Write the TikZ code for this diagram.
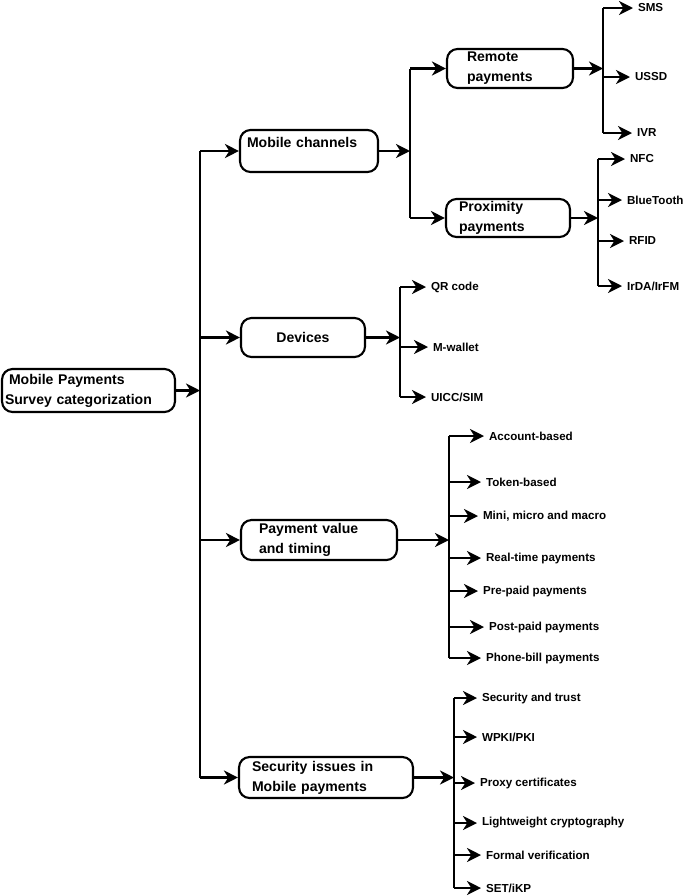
\documentclass[tikz,border=0pt]{standalone}
\usepackage{fontspec}
\setmainfont{Liberation Sans}
\usetikzlibrary{arrows.meta}
\begin{document}
\begin{tikzpicture}[x=0.02cm,y=-0.02cm,line width=1.2pt,
box/.style={draw,rounded corners=6pt,align=left,inner ysep=0pt,font=\fontsize{8}{11.3}\selectfont\bfseries},
leaf/.style={anchor=west,inner xsep=0.08cm,font=\fontsize{6.6}{8}\selectfont\bfseries},
arr/.style={-{Stealth[length=8pt,width=8pt,inset=2.5pt]}}]
\useasboundingbox (0,0) rectangle (685,896);
% main boxes
\node[box,text width=3.34cm,inner xsep=0.06cm,minimum height=0.86cm] (root) at (88.5,390.5) {\hspace*{0.08cm}Mobile Payments\\Survey categorization};
\node[box,text width=2.48cm,inner xsep=0.14cm,minimum height=0.84cm,text depth=0.33cm] (chan) at (309,151) {Mobile channels};
\node[box,text width=2.2cm,inner xsep=0.14cm,minimum height=0.78cm,align=center] (dev) at (303,337.5) {Devices};
\node[box,text width=2.4cm,inner xsep=0.36cm,minimum height=0.8cm] (value) at (319,540) {Payment value\\and timing};
\node[box,text width=2.96cm,inner xsep=0.26cm,minimum height=0.82cm] (sec) at (326,777.5) {Security issues in\\Mobile payments};
\node[box,text width=1.72cm,inner xsep=0.4cm,minimum height=0.78cm] (remote) at (510,68.5) {Remote\\payments};
\node[box,text width=1.96cm,inner xsep=0.26cm,minimum height=0.76cm] (prox) at (508,218) {Proximity\\payments};
% leaves
\node[leaf] (sms) at (633,8) {SMS};
\node[leaf] (ussd) at (630,77) {USSD};
\node[leaf] (ivr) at (632,133) {IVR};
\node[leaf] (nfc) at (625,159) {NFC};
\node[leaf] (bt) at (622,200) {BlueTooth};
\node[leaf] (rfid) at (624,241) {RFID};
\node[leaf] (irda) at (622,286) {IrDA/IrFM};
\node[leaf] (qr) at (426,287) {QR code};
\node[leaf] (mw) at (428,347) {M-wallet};
\node[leaf] (uicc) at (426,397) {UICC/SIM};
\node[leaf] (acc) at (484,436) {Account-based};
\node[leaf] (tok) at (481,482) {Token-based};
\node[leaf] (mini) at (478,516) {Mini, micro and macro};
\node[leaf] (real) at (481,558) {Real-time payments};
\node[leaf] (pre) at (478,591) {Pre-paid payments};
\node[leaf] (post) at (484,627) {Post-paid payments};
\node[leaf] (bill) at (481,658) {Phone-bill payments};
\node[leaf] (trust) at (477,698) {Security and trust};
\node[leaf] (wpki) at (477,737) {WPKI/PKI};
\node[leaf] (proxy) at (475,783) {Proxy certificates};
\node[leaf] (light) at (477,823) {Lightweight cryptography};
\node[leaf] (formal) at (481,855) {Formal verification};
\node[leaf] (set) at (481,888) {SET/iKP};
% trunks
\coordinate (tr) at (200,0);
\coordinate (trc) at (410,0);
\coordinate (trr) at (603,0);
\coordinate (trp) at (598,0);
\coordinate (trd) at (400,0);
\coordinate (trv) at (449,0);
\coordinate (trs) at (454,0);
\draw (tr |- chan.west) -- (tr |- sec.west);
\draw (trc |- remote.west) -- (trc |- prox.west);
\draw (trr |- sms.west) -- (trr |- ivr.west);
\draw (trp |- nfc.west) -- (trp |- irda.west);
\draw (trd |- qr.west) -- (trd |- uicc.west);
\draw (trv |- acc.west) -- (trv |- bill.west);
\draw (trs |- trust.west) -- (trs |- set.west);
% box to trunk
\draw[arr] (root.east) -- (root.east -| tr);
\draw[arr] (chan.east) -- (chan.east -| trc);
\draw[arr] (remote.east) -- (remote.east -| trr);
\draw[arr] (prox.east) -- (prox.east -| trp);
\draw[arr] (dev.east) -- (dev.east -| trd);
\draw[arr] (value.east) -- (value.east -| trv);
\draw[arr] (sec.east) -- (sec.east -| trs);
% trunk to box
\draw[arr] (tr |- chan.west) -- (chan.west);
\draw[arr] (tr |- dev.west) -- (dev.west);
\draw[arr] (tr |- value.west) -- (value.west);
\draw[arr] (tr |- sec.west) -- (sec.west);
\draw[arr] (trc |- remote.west) -- (remote.west);
\draw[arr] (trc |- prox.west) -- (prox.west);
% trunk to leaf
\draw[arr] (trr |- sms.west) -- (sms.west);
\draw[arr] (trr |- ussd.west) -- (ussd.west);
\draw[arr] (trr |- ivr.west) -- (ivr.west);
\draw[arr] (trp |- nfc.west) -- (nfc.west);
\draw[arr] (trp |- bt.west) -- (bt.west);
\draw[arr] (trp |- rfid.west) -- (rfid.west);
\draw[arr] (trp |- irda.west) -- (irda.west);
\draw[arr] (trd |- qr.west) -- (qr.west);
\draw[arr] (trd |- mw.west) -- (mw.west);
\draw[arr] (trd |- uicc.west) -- (uicc.west);
\draw[arr] (trv |- acc.west) -- (acc.west);
\draw[arr] (trv |- tok.west) -- (tok.west);
\draw[arr] (trv |- mini.west) -- (mini.west);
\draw[arr] (trv |- real.west) -- (real.west);
\draw[arr] (trv |- pre.west) -- (pre.west);
\draw[arr] (trv |- post.west) -- (post.west);
\draw[arr] (trv |- bill.west) -- (bill.west);
\draw[arr] (trs |- trust.west) -- (trust.west);
\draw[arr] (trs |- wpki.west) -- (wpki.west);
\draw[arr] (trs |- proxy.west) -- (proxy.west);
\draw[arr] (trs |- light.west) -- (light.west);
\draw[arr] (trs |- formal.west) -- (formal.west);
\draw[arr] (trs |- set.west) -- (set.west);
\end{tikzpicture}
\end{document}
